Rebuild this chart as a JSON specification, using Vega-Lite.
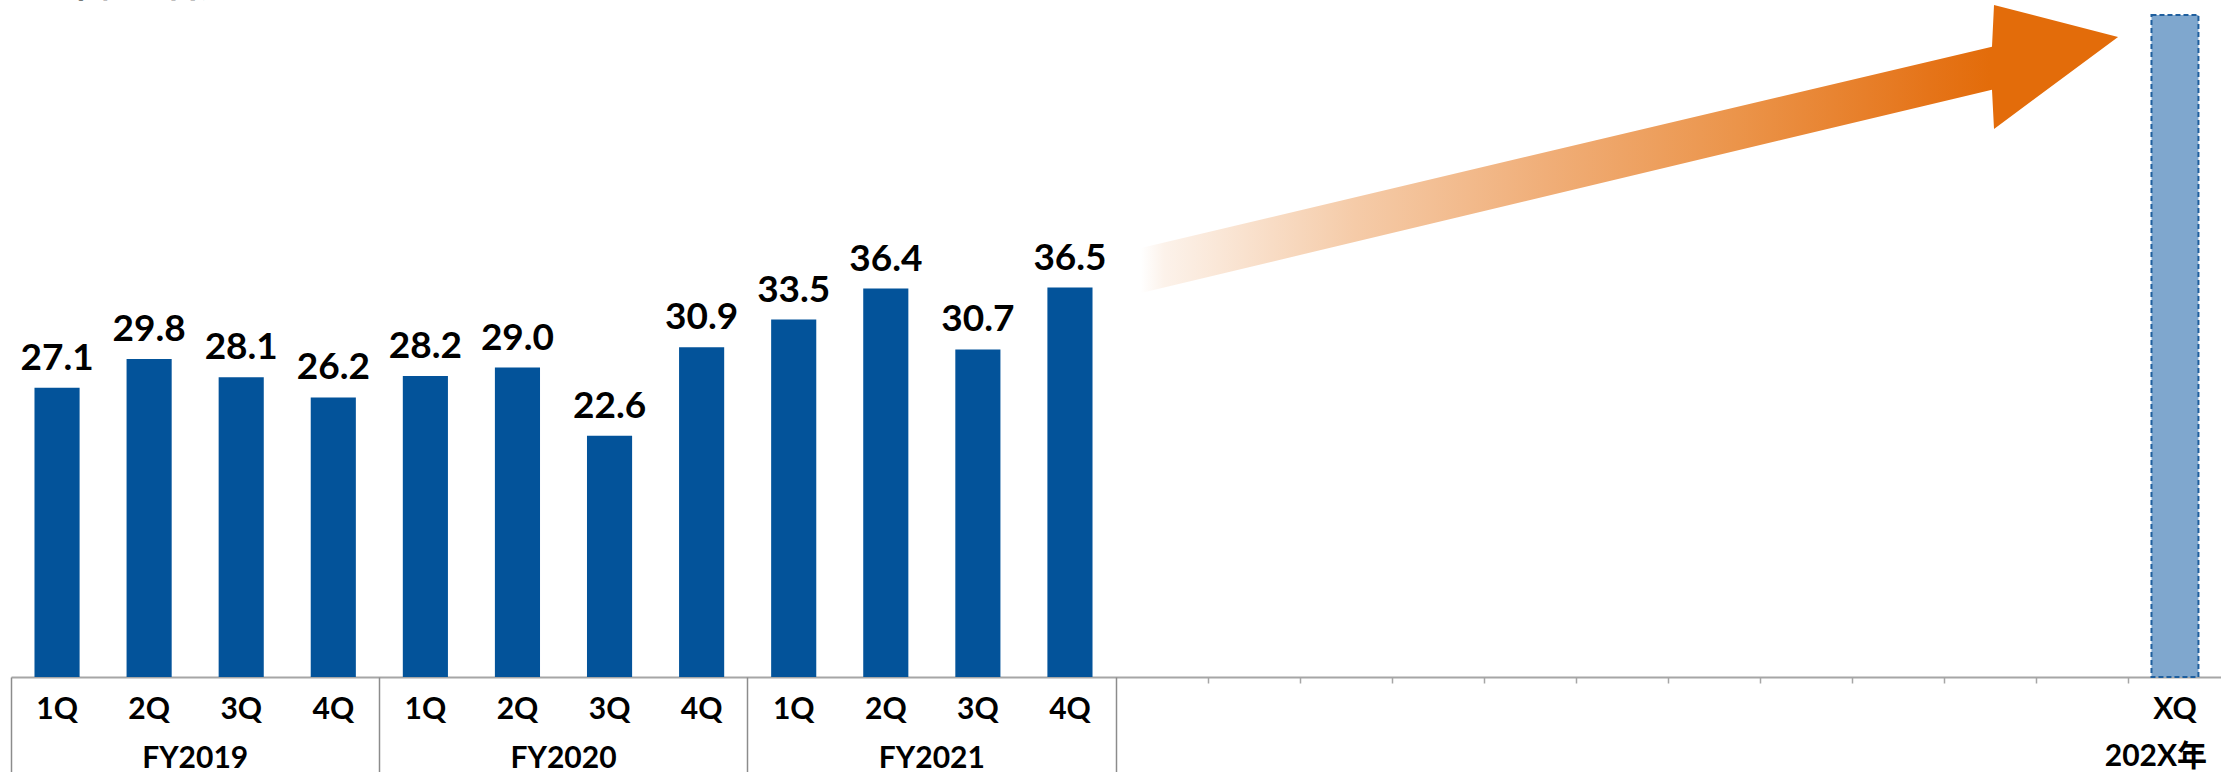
{
  "$schema": "https://vega.github.io/schema/vega-lite/v6.json",
  "width": 2210,
  "height": 677,
  "autosize": {"type": "none"},
  "padding": {"left": 11, "top": 0, "right": 0, "bottom": 95},
  "background": "white",
  "config": {"view": {"stroke": null}},
  "title": {
    "text": "（単位：百万円）",
    "anchor": "start",
    "frame": "group",
    "orient": "top",
    "offset": 0,
    "baseline": "alphabetic",
    "font": "Noto Sans CJK JP",
    "fontSize": 34,
    "fontWeight": "bold",
    "color": "#000000",
    "dx": 19,
    "dy": 31
  },
  "datasets": {
    "bars": [
      {"slot": "2019-1Q", "value": 27.1},
      {"slot": "2019-2Q", "value": 29.8},
      {"slot": "2019-3Q", "value": 28.1},
      {"slot": "2019-4Q", "value": 26.2},
      {"slot": "2020-1Q", "value": 28.2},
      {"slot": "2020-2Q", "value": 29.0},
      {"slot": "2020-3Q", "value": 22.6},
      {"slot": "2020-4Q", "value": 30.9},
      {"slot": "2021-1Q", "value": 33.5},
      {"slot": "2021-2Q", "value": 36.4},
      {"slot": "2021-3Q", "value": 30.7},
      {"slot": "2021-4Q", "value": 36.5},
      {"slot": "XQ", "value": 62.05}
    ],
    "arrow": [
      {"pos": 12.271, "top": 40.21, "bottom": 35.99},
      {"pos": 21.513, "top": 59.08, "bottom": 55.04},
      {"pos": 21.535, "top": 62.98, "bottom": 51.36},
      {"pos": 22.882, "top": 59.98, "bottom": 59.98}
    ]
  },
  "layer": [
    {
      "layer": [
        {
          "data": {"name": "bars"},
          "transform": [{"filter": "datum.slot != 'XQ'"}],
          "mark": {"type": "bar", "color": "#03539a", "width": {"band": 0.49}},
          "encoding": {
            "x": {
              "field": "slot", "type": "nominal",
              "scale": {"domain": ["2019-1Q","2019-2Q","2019-3Q","2019-4Q","2020-1Q","2020-2Q","2020-3Q","2020-4Q","2021-1Q","2021-2Q","2021-3Q","2021-4Q","e1","e2","e3","e4","e5","e6","e7","e8","e9","e10","e11","XQ"], "paddingInner": 0, "paddingOuter": 0},
              "axis": {
                "orient": "bottom", "title": null,
                "values": ["2019-1Q","2019-2Q","2019-3Q","2019-4Q","2020-1Q","2020-2Q","2020-3Q","2020-4Q","2021-1Q","2021-2Q","2021-3Q","2021-4Q","XQ"],
                "labelExpr": "datum.value == 'XQ' ? 'XQ' : split(datum.value, '-')[1]",
                "ticks": false, "domain": true, "domainColor": "#a6a6a6", "domainWidth": 2, "grid": false,
                "labelAngle": 0, "labelFont": "Lato", "labelFontSize": 30, "labelFontWeight": "bold", "labelColor": "#000000",
                "labelBaseline": "alphabetic", "labelPadding": 41, "labelOverlap": false, "labelFlush": false
              }
            },
            "y": {"field": "value", "type": "quantitative", "scale": {"domain": [0, 63.45], "nice": false, "zero": true}, "axis": null}
          }
        },
        {
          "data": {"name": "bars"},
          "transform": [{"filter": "datum.slot == 'XQ'"}],
          "mark": {"type": "bar", "fill": "#7fa7ce", "width": {"band": 0.51}},
          "encoding": {
            "x": {
              "field": "slot", "type": "nominal",
              "scale": {"domain": ["2019-1Q","2019-2Q","2019-3Q","2019-4Q","2020-1Q","2020-2Q","2020-3Q","2020-4Q","2021-1Q","2021-2Q","2021-3Q","2021-4Q","e1","e2","e3","e4","e5","e6","e7","e8","e9","e10","e11","XQ"], "paddingInner": 0, "paddingOuter": 0},
              "axis": {
                "orient": "bottom", "title": null,
                "values": ["2019-1Q","2020-1Q","2021-1Q","e1"],
                "bandPosition": 0, "labels": false, "domain": false, "grid": false,
                "ticks": true, "tickColor": "#8c8c8c", "tickWidth": 1.5, "tickSize": 100
              }
            },
            "y": {"field": "value", "type": "quantitative", "scale": {"domain": [0, 63.45], "nice": false, "zero": true}, "axis": null}
          }
        },
        {
          "data": {"name": "bars"},
          "transform": [{"filter": "datum.slot == 'XQ'"}],
          "mark": {"type": "bar", "fill": null, "fillOpacity": 0, "stroke": "#1f5f9e", "strokeWidth": 2, "strokeDash": [5, 3], "width": {"band": 0.51}},
          "encoding": {
            "x": {
              "field": "slot", "type": "nominal",
              "scale": {"domain": ["2019-1Q","2019-2Q","2019-3Q","2019-4Q","2020-1Q","2020-2Q","2020-3Q","2020-4Q","2021-1Q","2021-2Q","2021-3Q","2021-4Q","e1","e2","e3","e4","e5","e6","e7","e8","e9","e10","e11","XQ"], "paddingInner": 0, "paddingOuter": 0},
              "axis": {
                "orient": "bottom", "title": null,
                "values": ["e2","e3","e4","e5","e6","e7","e8","e9","e10","e11","XQ"],
                "bandPosition": 0, "domain": false, "grid": false,
                "ticks": true, "tickColor": "#a6a6a6", "tickWidth": 1.5, "tickSize": 6,
                "labels": true, "labelAngle": 0, "labelOffset": -19,
                "labelExpr": "datum.value == 'XQ' ? '202X年' : ''",
                "labelFont": "Lato, Noto Sans CJK JP", "labelFontSize": 30, "labelFontWeight": "bold", "labelColor": "#000000",
                "labelBaseline": "alphabetic", "labelPadding": 82, "labelOverlap": false, "labelFlush": false
              }
            },
            "y": {"field": "value", "type": "quantitative", "scale": {"domain": [0, 63.45], "nice": false, "zero": true}, "axis": null}
          }
        },
        {
          "data": {"name": "bars"},
          "transform": [{"filter": "datum.slot != 'XQ'"}],
          "mark": {"type": "text", "font": "Lato", "fontSize": 37, "fontWeight": "bold", "color": "#000000", "baseline": "alphabetic", "dy": -18},
          "encoding": {
            "x": {
              "field": "slot", "type": "nominal",
              "scale": {"domain": ["2019-1Q","2019-2Q","2019-3Q","2019-4Q","2020-1Q","2020-2Q","2020-3Q","2020-4Q","2021-1Q","2021-2Q","2021-3Q","2021-4Q","e1","e2","e3","e4","e5","e6","e7","e8","e9","e10","e11","XQ"], "paddingInner": 0, "paddingOuter": 0},
              "axis": {
                "orient": "bottom", "title": null,
                "values": ["2019-3Q","2020-3Q","2021-3Q"],
                "bandPosition": 0, "ticks": false, "domain": false, "grid": false,
                "labelAngle": 0, "labelOffset": -46,
                "labelExpr": "'FY' + split(datum.value, '-')[0]",
                "labelFont": "Lato", "labelFontSize": 30, "labelFontWeight": "bold", "labelColor": "#000000",
                "labelBaseline": "alphabetic", "labelPadding": 90, "labelOverlap": false, "labelFlush": false
              }
            },
            "y": {"field": "value", "type": "quantitative", "scale": {"domain": [0, 63.45], "nice": false, "zero": true}, "axis": null},
            "text": {"field": "value", "type": "quantitative", "format": ".1f"}
          }
        }
      ],
      "resolve": {"axis": {"x": "independent"}}
    },
    {
      "data": {"name": "arrow"},
      "mark": {
        "type": "area",
        "orient": "vertical",
        "interpolate": "linear",
        "color": {
          "gradient": "linear", "x1": 0, "x2": 1, "y1": 0, "y2": 0,
          "stops": [
            {"offset": 0, "color": "#ffffff"},
            {"offset": 0.024, "color": "#fcf2ea"},
            {"offset": 0.219, "color": "#f5cba8"},
            {"offset": 0.415, "color": "#f0ae78"},
            {"offset": 0.611, "color": "#eb944a"},
            {"offset": 0.807, "color": "#e57419"},
            {"offset": 0.869, "color": "#e36c0a"},
            {"offset": 1, "color": "#e36c0a"}
          ]
        }
      },
      "encoding": {
        "x": {"field": "pos", "type": "quantitative", "scale": {"domain": [0, 24], "nice": false, "zero": false}, "axis": null},
        "y": {"field": "top", "type": "quantitative", "scale": {"domain": [0, 63.45], "nice": false, "zero": true}, "axis": null},
        "y2": {"field": "bottom"}
      }
    }
  ],
  "resolve": {"scale": {"x": "independent"}, "axis": {"x": "independent"}}
}
